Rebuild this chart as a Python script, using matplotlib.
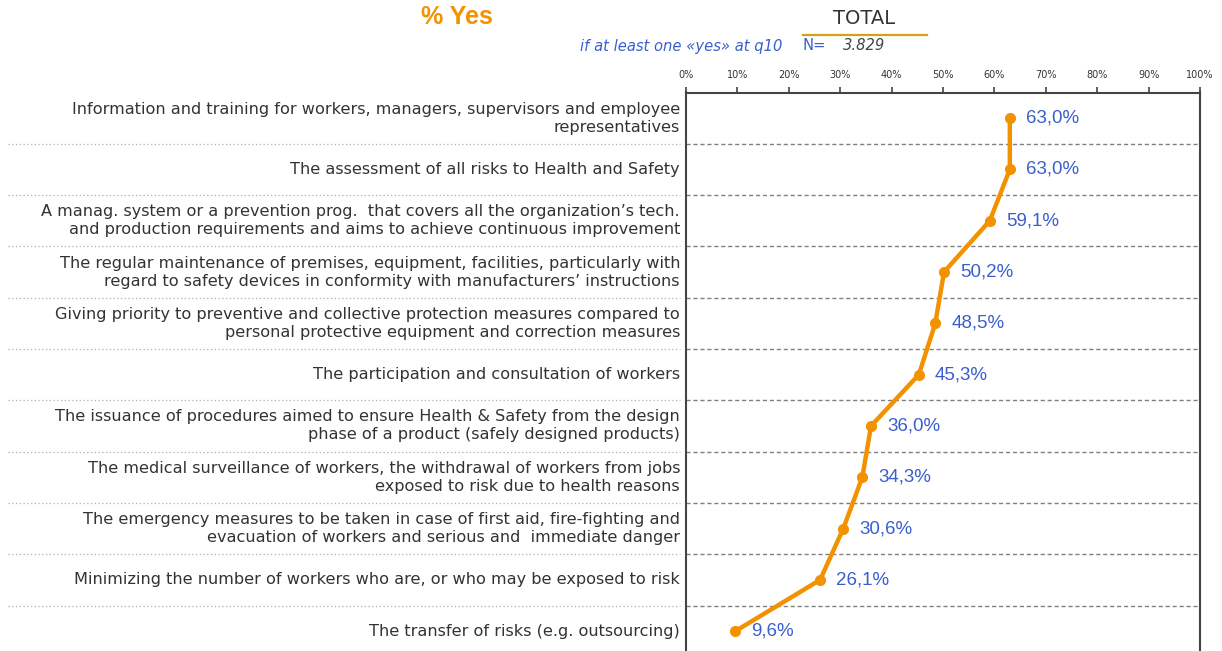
import matplotlib.pyplot as plt

# data
items = [
    "Information and training for workers, managers, supervisors and employee\nrepresentatives",
    "The assessment of all risks to Health and Safety",
    "A manag. system or a prevention prog.  that covers all the organization\u2019s tech.\nand production requirements and aims to achieve continuous improvement",
    "The regular maintenance of premises, equipment, facilities, particularly with\nregard to safety devices in conformity with manufacturers\u2019 instructions",
    "Giving priority to preventive and collective protection measures compared to\npersonal protective equipment and correction measures",
    "The participation and consultation of workers",
    "The issuance of procedures aimed to ensure Health & Safety from the design\nphase of a product (safely designed products)",
    "The medical surveillance of workers, the withdrawal of workers from jobs\nexposed to risk due to health reasons",
    "The emergency measures to be taken in case of first aid, fire-fighting and\nevacuation of workers and serious and  immediate danger",
    "Minimizing the number of workers who are, or who may be exposed to risk",
    "The transfer of risks (e.g. outsourcing)",
]
yes_pct = [63.0, 63.0, 59.1, 50.2, 48.5, 45.3, 36.0, 34.3, 30.6, 26.1, 9.6]
x_ticks = [0, 10, 20, 30, 40, 50, 60, 70, 80, 90, 100]

W, H = 1222, 651
fig = plt.figure(figsize=(W / 100, H / 100), dpi=100)

# axes: 0% at x=686, 100% at x=1200, top at y=92.5, rows ~51.3 px
row_h = 51.3
top = 92.5
n = len(items)
bottom_px = top + n * row_h
ax = fig.add_axes([686 / W, 1 - bottom_px / H, (1200 - 686) / W, (bottom_px - top) / H])

pos = list(range(n))
orange = '#f39200'
blue = '#3a5fcd'

ax.plot(yes_pct, pos, '-o', color=orange, lw=3.2, ms=7, solid_capstyle='round', zorder=3)
for v, p in zip(yes_pct, pos):
    ax.text(v + 3.1, p, f"{v:.1f}%".replace('.', ','), color=blue, fontsize=13.5,
            family='Liberation Sans', va='center', ha='left')

for i in range(1, n):
    ax.axhline(i - 0.5, color='#808080', ls=(0, (3, 2)), lw=1)

ax.set_xlim(0, 100)
ax.set_ylim(n - 0.5, -0.5)
ax.set_yticks([])
ax.xaxis.tick_top()
ax.set_xticks(x_ticks)
ax.set_xticklabels([f"{t}%" for t in x_ticks], fontsize=7, color='#333333')
ax.tick_params(axis='x', direction='out', length=4, width=1.2, color='#444444', pad=5)
for s in ax.spines.values():
    s.set_color('#444444')
    s.set_linewidth(1.5)
ax.spines['bottom'].set_visible(False)

# left labels and dotted separators
for i, lab in enumerate(items):
    yc = 1 - (top + (i + 0.5) * row_h) / H
    fig.text(680 / W, yc, lab, ha='right', va='center', fontsize=11.6, color='#333333',
             family='DejaVu Sans', linespacing=1.25)
    if i > 0:
        ys = 1 - (top + i * row_h) / H
        fig.add_artist(plt.Line2D([8 / W, 680 / W], [ys, ys], color='#b0b0b0',
                                  ls=(0, (1, 2)), lw=0.9))

# header
fig.text(457 / W, 1 - 16.5 / H, "% Yes", ha='center', va='center', fontsize=18,
         fontweight='bold', color=orange, family='Liberation Sans')
fig.text(864 / W, 1 - 18 / H, "TOTAL", ha='center', va='center', fontsize=14,
         color='#333333', family='DejaVu Sans')
fig.add_artist(plt.Line2D([803 / W, 927 / W], [1 - 35 / H, 1 - 35 / H], color='#d4a017', lw=1.6))
fig.text(782 / W, 1 - 46 / H, "if at least one \u00abyes\u00bb at q10", ha='right', va='center',
         fontsize=10.6, style='italic', color=blue, family='DejaVu Sans')
fig.text(803 / W, 1 - 46 / H, "N=", ha='left', va='center', fontsize=10.6, color=blue,
         family='DejaVu Sans')
fig.text(843 / W, 1 - 46 / H, "3.829", ha='left', va='center', fontsize=10.6, style='italic',
         color='#444444', family='DejaVu Sans')

fig.savefig('out.png', dpi=100)
